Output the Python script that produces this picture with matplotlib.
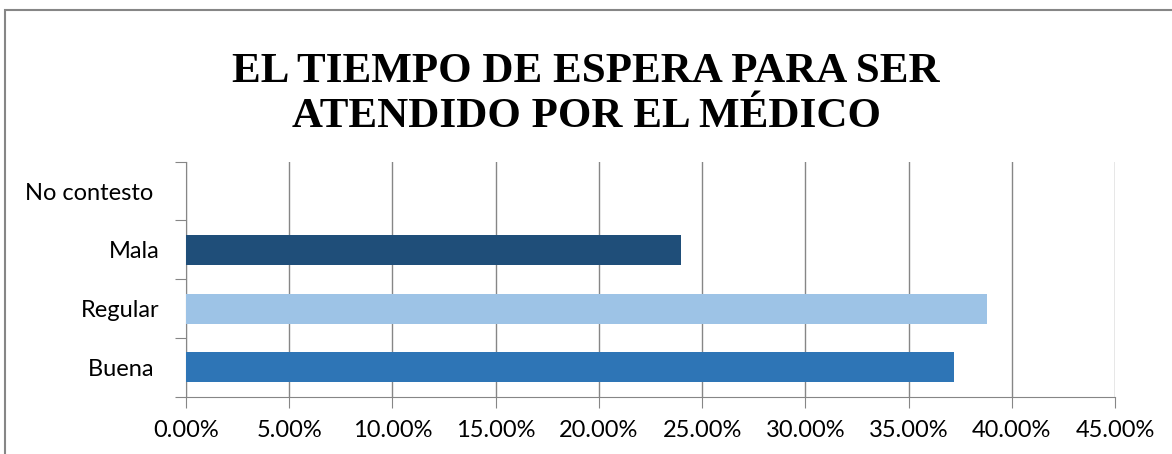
import matplotlib.pyplot as plt
from matplotlib.ticker import FuncFormatter, MultipleLocator
from matplotlib.patches import Rectangle

categories = ["Buena ", "Regular", "Mala", "No contesto "]
values = [37.2, 38.8, 24.0, 0.0]
colors = ["#2E75B6", "#9DC3E6", "#1F4E79", "#5B9BD5"]

fig = plt.figure(figsize=(11.72, 4.54), dpi=100)
ax = fig.add_axes([0.1587, 0.1262, 0.7927, 0.5176])

ax.barh(range(len(categories)), values, height=0.51, color=colors, zorder=3)

ax.set_xlim(0, 45)
ax.set_ylim(-0.5, len(categories) - 0.5)
ax.xaxis.set_major_locator(MultipleLocator(5))
ax.xaxis.set_major_formatter(FuncFormatter(lambda v, p: f"{v:.2f}%"))
ax.set_yticks([i - 0.5 for i in range(len(categories) + 1)])
ax.set_yticklabels([])
ax.set_yticks(range(len(categories)), minor=True)
ax.set_yticklabels(categories, minor=True)

ax.grid(axis="x", color="#868686", linewidth=1, zorder=0)
for s in ["top", "right"]:
    ax.spines[s].set_visible(False)
ax.spines["left"].set_color("#868686")
ax.spines["bottom"].set_color("#868686")

ax.tick_params(axis="x", which="major", length=8, color="#868686",
               labelsize=17, pad=9)
ax.tick_params(axis="y", which="major", length=8, color="#868686")
ax.tick_params(axis="y", which="minor", length=0, labelsize=17, pad=19)
for lbl in ax.get_xticklabels() + ax.get_yticklabels(minor=True):
    lbl.set_fontfamily("Lato")

fig.text(0.5, 0.792, "EL TIEMPO DE ESPERA PARA SER\nATENDIDO POR EL MÉDICO",
         ha="center", va="center", fontsize=31, fontweight="bold",
         family="Liberation Serif", linespacing=1.25)

# chart frame (only left and top edges are inside the image)
fig.patches.append(Rectangle((5 / 1172, -0.05), 1.1, 0.05 + 1 - 10 / 454,
                             transform=fig.transFigure, fill=False,
                             edgecolor="#868686", linewidth=1.5))

fig.savefig("out.png", dpi=100)
